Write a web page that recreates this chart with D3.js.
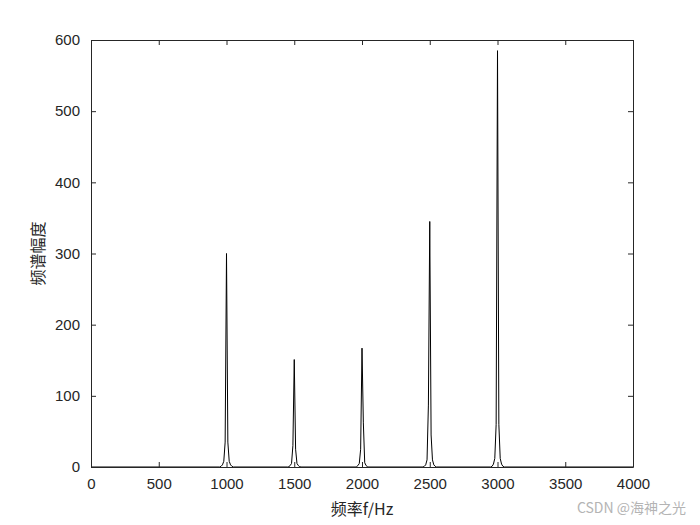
<!DOCTYPE html>
<html>
<head>
<meta charset="utf-8">
<script src="https://cdn.jsdelivr.net/npm/d3@7"></script>
<style>
  body { margin: 0; background: #fff; }
  svg { display: block; }
</style>
</head>
<body>
<div id="chart"></div>
<script>
// data: spectrum points (frequency in Hz, magnitude)
const freqs = [
  0, 950, 960, 970, 980, 990, 1000, 1010, 1020, 1030, 1040, 1050,
  1450, 1460, 1470, 1480, 1490, 1500, 1510, 1520, 1530, 1540, 1550,
  1950, 1960, 1970, 1980, 1990, 2000, 2010, 2020, 2030, 2040, 2050,
  2450, 2460, 2470, 2480, 2490, 2500, 2510, 2520, 2530, 2540, 2550,
  2950, 2960, 2970, 2980, 2990, 3000, 3010, 3020, 3030, 3040, 3050,
  4000
];
const mags = [
  0, 0, 1, 3, 8, 35, 300, 35, 8, 3, 1, 0,
  0, 0.5, 2, 5, 30, 151, 25, 5, 2, 0.5, 0,
  0, 0.5, 2, 5, 25, 167, 62, 6, 2, 0.5, 0,
  0, 1, 3, 10, 87, 345, 45, 10, 3, 1, 0,
  0, 1, 4, 12, 60, 585, 60, 12, 4, 1, 0,
  0
];
const xTicks = [0, 500, 1000, 1500, 2000, 2500, 3000, 3500, 4000];
const yTicks = [0, 100, 200, 300, 400, 500, 600];

const data = freqs.map((f, i) => ({ f: f, m: mags[i] }));

// layout
const width = 700, height = 525;
const margin = { left: 91, right: 67, top: 40, bottom: 58 };
const w = width - margin.left - margin.right;
const h = height - margin.top - margin.bottom;
const tickLen = 5;
const font = "Arial, 'Liberation Sans', Helvetica, sans-serif";
const cjk = "'Noto Sans CJK SC', sans-serif";

const svg = d3.select("#chart").append("svg")
  .attr("width", width)
  .attr("height", height);

const g = svg.append("g")
  .attr("transform", "translate(" + margin.left + "," + margin.top + ")");

const x = d3.scaleLinear().domain([0, 4000]).range([0, w]);
const y = d3.scaleLinear().domain([0, 600]).range([h, 0]);

// spectrum line
const line = d3.line().x(d => x(d.f)).y(d => y(d.m));
g.append("path")
  .datum(data)
  .attr("d", line)
  .attr("fill", "none")
  .attr("stroke", "#000")
  .attr("stroke-width", 1)
  .attr("stroke-linejoin", "round");

// axes: bottom/left with labels, top/right ticks only, all ticks inward
function styleAxis(sel) {
  sel.select(".domain").attr("stroke", "#262626").attr("stroke-width", 1);
  sel.selectAll(".tick line").attr("stroke", "#262626");
  sel.selectAll(".tick text")
    .style("font-family", font)
    .style("font-size", "15px")
    .attr("fill", "#262626");
}

g.append("g")
  .attr("transform", "translate(0," + h + ")")
  .call(d3.axisBottom(x).tickValues(xTicks).tickFormat(d3.format("d"))
    .tickSize(-tickLen).tickSizeOuter(0).tickPadding(tickLen + 6))
  .call(styleAxis);

g.append("g")
  .call(d3.axisLeft(y).tickValues(yTicks).tickFormat(d3.format("d"))
    .tickSize(-tickLen).tickSizeOuter(0).tickPadding(tickLen + 6))
  .call(styleAxis);

g.append("g")
  .call(d3.axisTop(x).tickValues(xTicks).tickFormat("")
    .tickSize(-tickLen).tickSizeOuter(0))
  .call(styleAxis);

g.append("g")
  .attr("transform", "translate(" + w + ",0)")
  .call(d3.axisRight(y).tickValues(yTicks).tickFormat("")
    .tickSize(-tickLen).tickSizeOuter(0))
  .call(styleAxis);

// axis titles
g.append("text")
  .text("频率f/Hz")
  .attr("x", w / 2)
  .attr("y", h + 48)
  .attr("text-anchor", "middle")
  .style("font-family", cjk)
  .style("font-size", "16px")
  .attr("fill", "#262626");

g.append("text")
  .text("频谱幅度")
  .attr("transform", "translate(-47," + (h / 2) + ") rotate(-90)")
  .attr("text-anchor", "middle")
  .style("font-family", cjk)
  .style("font-size", "16px")
  .attr("fill", "#262626");

// watermark
svg.append("text")
  .text("CSDN @海神之光")
  .attr("x", 686)
  .attr("y", 513)
  .attr("text-anchor", "end")
  .style("font-family", cjk)
  .style("font-size", "14px")
  .attr("fill", "#b4b4b4");
</script>
</body>
</html>
